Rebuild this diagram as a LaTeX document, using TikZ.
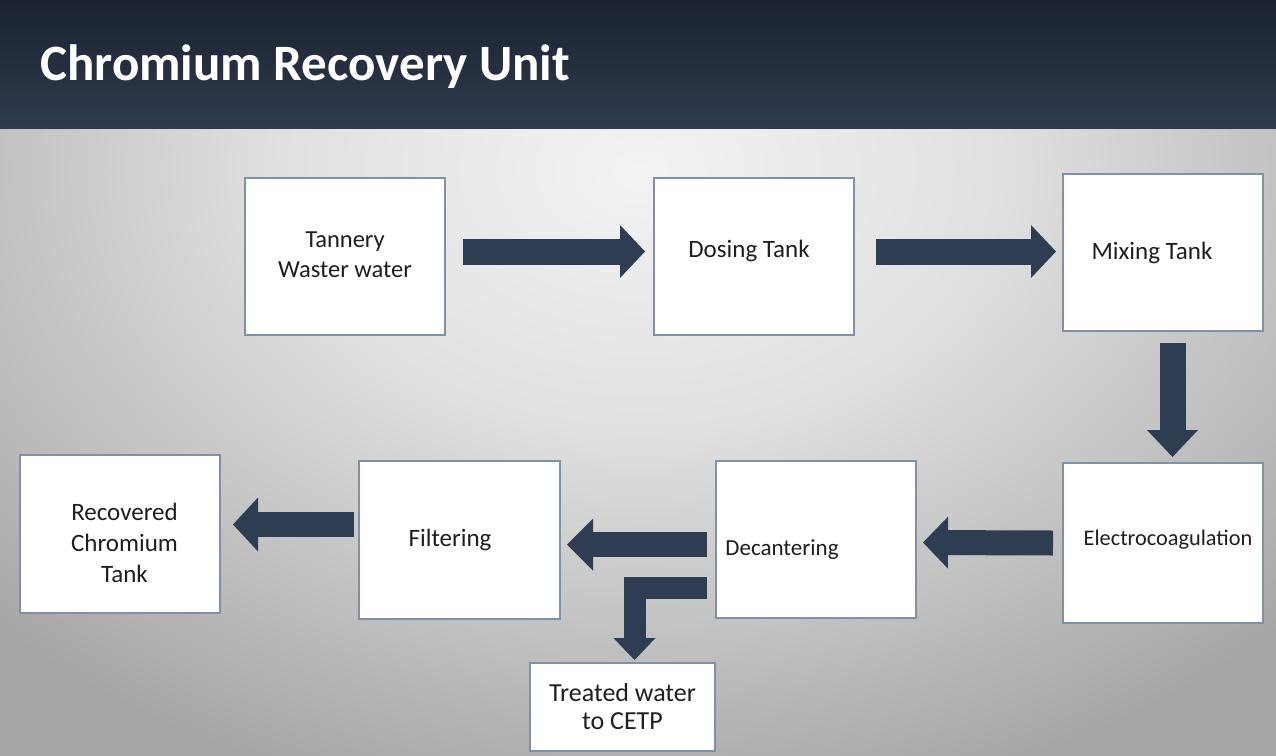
\documentclass[tikz,border=0pt]{standalone}
\usepackage{fontspec}
\setmainfont{Carlito}
\usetikzlibrary{arrows.meta,calc}
\definecolor{hdrtop}{HTML}{1B2230}
\definecolor{hdrbot}{HTML}{2E3B4E}
\definecolor{arrowc}{HTML}{2F3D52}
\definecolor{boxline}{HTML}{8090A6}
\definecolor{bgA}{HTML}{F3F3F3}
\definecolor{bgB}{HTML}{E0E0E0}
\definecolor{bgC}{HTML}{A6A6A6}
\definecolor{txt}{HTML}{1E1E1E}
\pgfdeclareradialshading{bgshade}{\pgfpoint{0bp}{0bp}}{color(0bp)=(bgA); color(6.7bp)=(bgB); color(16.7bp)=(bgC); color(50bp)=(bgC)}
\begin{document}
\begin{tikzpicture}[x=1pt,y=-1pt,
  box/.style={draw=boxline, line width=1.1pt, fill=white, minimum width=200pt, minimum height=157pt, inner sep=0pt, outer sep=0pt},
  lbl/.style={font=\fontsize{25}{31}\selectfont, text=txt, align=center, inner sep=0pt},
  flow/.style={draw=arrowc, line width=26pt, line cap=butt, -{Triangle[width=53pt,length=25pt,line width=0pt]}},
]
\useasboundingbox (0,0) rectangle (1276,755);
% background
\fill[bgC] (0,128) rectangle (1276,755);
\begin{scope}
\clip (0,128) rectangle (1276,755);
\shade[shading=bgshade] (640,170) ellipse [x radius=1350pt, y radius=975pt];
\end{scope}
% header
\shade[top color=hdrtop, bottom color=hdrbot] (0,0) rectangle (1276,128);
\node[anchor=base west, text=white, font=\fontsize{51}{60}\selectfont\bfseries, inner sep=0pt] (title) at (40,80) {Chromium Recovery Unit};

% boxes
\node[box, label={[lbl,yshift=2pt,font=\fontsize{24.5}{30}\selectfont]center:Tannery\\Waster water}] (tw) at (345,256.5) {};
\node[box, label={[lbl,xshift=-5pt,yshift=5.5pt]center:Dosing Tank}] (dt) at (754,256.5) {};
\node[box, label={[lbl,xshift=-11pt]center:Mixing Tank}] (mt) at (1163,252.5) {};
\node[box, minimum height=160pt, label={[lbl,xshift=5pt,yshift=3pt,font=\fontsize{22.3}{28}\selectfont]center:Electrocoagulation}] (ec) at (1163,543) {};
\node[box, label={[lbl,xshift=-34pt,yshift=-10.5pt,font=\fontsize{23}{28}\selectfont]center:Decantering}] (dc) at (816,539.5) {};
\node[box, minimum width=201pt, minimum height=158pt, label={[lbl,xshift=-9.5pt,font=\fontsize{25}{30}\selectfont]center:Filtering}] (fi) at (459.5,540) {};
\node[box, minimum height=158pt, label={[lbl,xshift=4.5pt,yshift=-8.5pt,font=\fontsize{25}{31}\selectfont]center:Recovered\\Chromium\\Tank}] (rc) at (120,534) {};
\node[box, minimum width=185pt, minimum height=88pt, label={[lbl,font=\fontsize{26}{28}\selectfont]center:Treated water\\to CETP}] (tr) at (622.5,707) {};

% connectors
\draw[flow] ([xshift=18pt,yshift=5pt]tw.east) -- ([xshift=-9pt,yshift=5pt]dt.west);
\draw[flow] ([xshift=22pt,yshift=5pt]dt.east) -- ([xshift=-7pt,yshift=1pt]mt.west);
\draw[flow, -{Triangle[width=51pt,length=27pt,line width=0pt]}] ([xshift=9.5pt,yshift=-12pt]mt.south) -- ([xshift=9.5pt,yshift=6pt]ec.north);
\draw[flow, line width=25pt, -{Triangle[width=52pt,length=25pt,line width=0pt]}] ([xshift=-10pt]ec.west) -- ([xshift=7pt,yshift=-3pt]dc.east);
\draw[flow, line width=25pt, -{Triangle[width=52pt,length=26pt,line width=0pt]}] ([xshift=-9pt,yshift=-5pt]dc.west) -- ([xshift=7pt,yshift=-4.5pt]fi.east);
\draw[flow, line width=25pt, -{Triangle[width=54pt,length=25pt,line width=0pt]}] ([xshift=-5pt,yshift=15.5pt]fi.west) -- ([xshift=13pt,yshift=9.5pt]rc.east);
\draw[flow, line width=22pt, line join=miter, -{Triangle[width=42pt,length=22pt,line width=0pt]}] ([xshift=-9pt,yshift=-48pt]dc.west) -| ([xshift=12pt,yshift=3pt]tr.north);
\end{tikzpicture}
\end{document}
